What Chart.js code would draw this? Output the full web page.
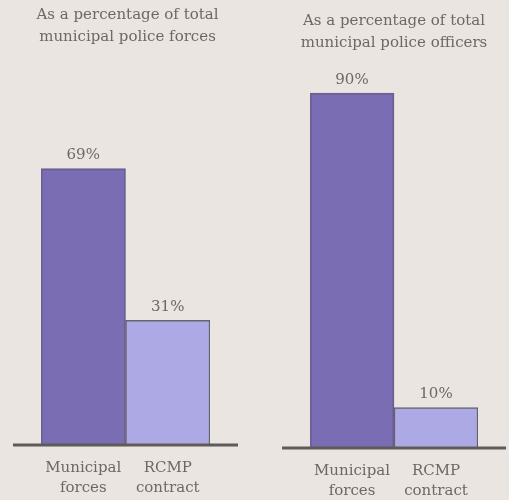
<!DOCTYPE html>
<html>
<head>
<meta charset="utf-8">
<script src="https://cdn.jsdelivr.net/npm/chart.js@4.4.1/dist/chart.umd.min.js"></script>
<style>
    html, body { margin: 0; padding: 0; background: #ebe5e1; }
    #wrap { position: relative; width: 509px; height: 500px; overflow: hidden; }
    .panel { position: absolute; top: 0; height: 500px; }
    #left-panel { left: 0; width: 255px; }
    #right-panel { left: 255px; width: 254px; }
</style>
</head>
<body>
<div id="wrap">
    <div class="panel" id="left-panel"><canvas id="forces-chart"></canvas></div>
    <div class="panel" id="right-panel"><canvas id="officers-chart"></canvas></div>
</div>
<script>
const categories = [['Municipal', 'forces'], ['RCMP', 'contract']];
const forcesShares = [69, 31];
const officersShares = [90, 10];
const forcesTitle = ['As a percentage of total', 'municipal police forces'];
const officersTitle = ['As a percentage of total', 'municipal police officers'];

const textColor = '#6b6866';
const axisColor = '#5e5b58';
const serif = "'DejaVu Serif', serif";

// draws "69%" etc above each bar
const valueLabels = {
    id: 'valueLabels',
    afterDatasetsDraw(chart) {
        const ctx = chart.ctx;
        const meta = chart.getDatasetMeta(0);
        const values = chart.data.datasets[0].data;
        ctx.save();
        ctx.font = `15px ${serif}`;
        ctx.fillStyle = textColor;
        ctx.textAlign = 'center';
        ctx.textBaseline = 'bottom';
        meta.data.forEach((bar, i) => {
            ctx.fillText(`${values[i]}%`, bar.x, bar.y - 6);
        });
        ctx.restore();
    }
};

// baseline runs past the bars on both sides
const baseline = {
    id: 'baseline',
    afterDatasetsDraw(chart, args, opts) {
        const { ctx, chartArea } = chart;
        const y = chartArea.bottom + 1;
        ctx.save();
        ctx.strokeStyle = axisColor;
        ctx.lineWidth = 3;
        ctx.beginPath();
        ctx.moveTo(chartArea.left - opts.overhang, y);
        ctx.lineTo(chartArea.right + opts.overhang, y);
        ctx.stroke();
        ctx.restore();
    }
};

// invisible side axis, only used to hold space next to the bars
function spacerAxis(position, width, yMax) {
    return {
        position: position,
        display: true,
        min: 0,
        max: yMax,
        grid: { display: false },
        border: { display: false },
        ticks: { display: false },
        afterFit(scale) {
            scale.width = width;
        }
    };
}

function makePanel(canvasId, title, values, opts) {
    const ctx = document.getElementById(canvasId).getContext('2d');
    return new Chart(ctx, {
        type: 'bar',
        data: {
            labels: categories,
            datasets: [{
                data: values,
                backgroundColor: ['rgb(123, 109, 180)', 'rgb(172, 169, 228)'],
                borderColor: ['rgb(106, 96, 145)', 'rgb(100, 98, 110)'],
                borderWidth: [2, 1.5],
                borderSkipped: 'bottom',
                barPercentage: 1,
                categoryPercentage: 1
            }]
        },
        options: {
            responsive: true,
            maintainAspectRatio: false,
            animation: false,
            layout: {
                padding: { left: opts.padLeft, right: opts.padRight, top: 0, bottom: 0 }
            },
            plugins: {
                legend: { display: false },
                tooltip: { enabled: false },
                title: {
                    display: true,
                    text: title,
                    color: textColor,
                    font: { family: serif, size: 15, weight: 'normal', lineHeight: 1.47 },
                    padding: { top: opts.titleTop, bottom: opts.titleBottom }
                },
                baseline: { overhang: 28 }
            },
            scales: {
                x: {
                    grid: { display: false },
                    border: { display: false },
                    ticks: {
                        color: textColor,
                        font: { family: serif, size: 15, lineHeight: 1.35 },
                        padding: 6,
                        maxRotation: 0
                    },
                    afterFit(scale) {
                        scale.height = opts.axisHeight;
                    }
                },
                y: spacerAxis('left', opts.gapLeft, opts.yMax),
                yRight: spacerAxis('right', opts.gapRight, opts.yMax)
            }
        },
        plugins: [valueLabels, baseline]
    });
}

makePanel('forces-chart', forcesTitle, forcesShares, {
    padLeft: 13, padRight: 13, gapLeft: 28, gapRight: 32,
    titleTop: 4, titleBottom: 12, axisHeight: 56, yMax: 96.2
});
makePanel('officers-chart', officersTitle, officersShares, {
    padLeft: 26, padRight: 2, gapLeft: 29, gapRight: 29,
    titleTop: 10, titleBottom: 6, axisHeight: 53, yMax: 98.4
});
</script>
</body>
</html>
